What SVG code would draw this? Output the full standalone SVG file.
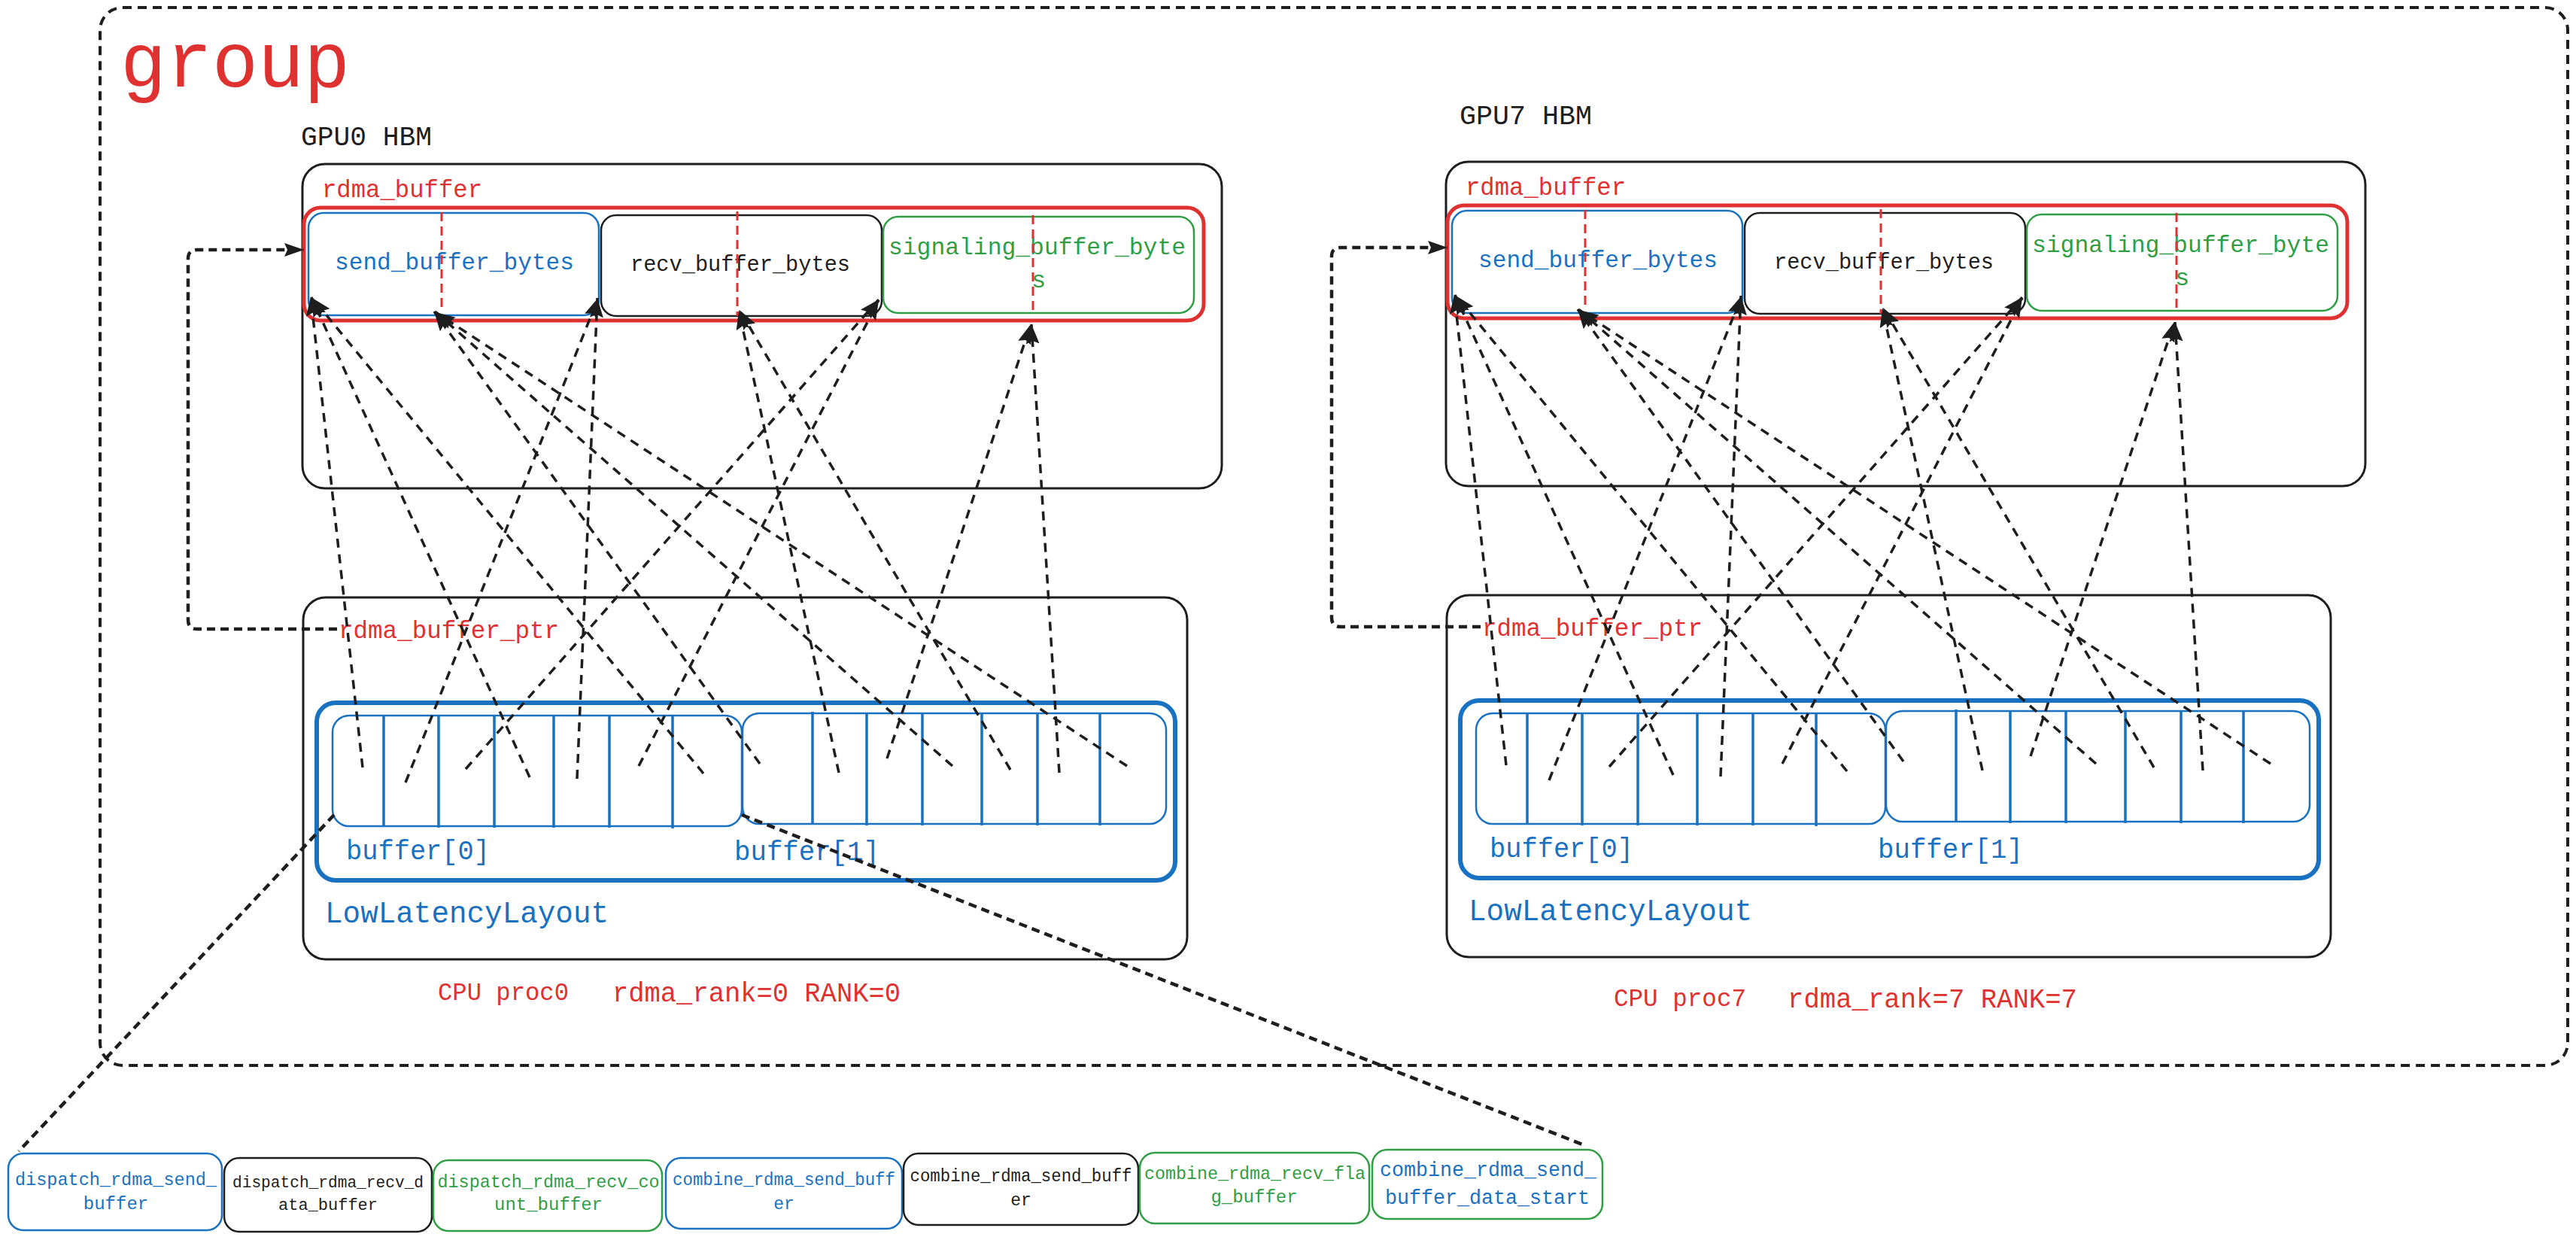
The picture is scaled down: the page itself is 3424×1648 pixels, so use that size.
<svg xmlns="http://www.w3.org/2000/svg" width="3424" height="1648" viewBox="0 0 3424 1648">
<style>
  text { font-family: "Liberation Mono", "DejaVu Sans Mono", monospace; }
  .red { fill: #e03131; }
  .blue { fill: #1971c2; }
  .green { fill: #2f9e44; }
  .black { fill: #1e1e1e; }
  .box { fill: none; stroke: #1e1e1e; stroke-width: 3; }
  .rbox { fill: none; stroke: #e03131; stroke-width: 5; }
  .bbox { fill: none; stroke: #1971c2; stroke-width: 2.5; }
  .kbox { fill: none; stroke: #1e1e1e; stroke-width: 2.5; }
  .gbox { fill: none; stroke: #2f9e44; stroke-width: 2.5; }
  .lay { fill: none; stroke: #1971c2; stroke-width: 6; }
  .cell { stroke: #1971c2; stroke-width: 3.5; }
  .rdash { stroke: #e03131; stroke-width: 3; stroke-dasharray: 12 7; }
  .conn { fill: none; stroke: #1e1e1e; stroke-width: 3.5; stroke-dasharray: 12 9; }
  .conn2 { fill: none; stroke: #1e1e1e; stroke-width: 4.5; stroke-dasharray: 11 7; }
  .frame { fill: none; stroke: #1e1e1e; stroke-width: 4; stroke-dasharray: 12 8; }
</style>
<defs>
  <marker id="ah" markerUnits="userSpaceOnUse" markerWidth="30" markerHeight="22" refX="26" refY="9" orient="auto">
    <path d="M0,0 L26,9 L0,18 L4,9 Z" fill="#1e1e1e"/>
  </marker>
</defs>
<rect width="3424" height="1648" fill="#ffffff"/>

<g id="group-frame">
  <rect class="frame" x="133" y="10" width="3280" height="1406" rx="30"/>
  <text class="red" x="160" y="115" font-size="104" textLength="305" lengthAdjust="spacingAndGlyphs">group</text>
</g>

<text id="gpu0-label" class="black" x="400" y="193" font-size="37" textLength="174" lengthAdjust="spacingAndGlyphs">GPU0 HBM</text>
<text id="gpu7-label" class="black" x="1940" y="165" font-size="37" textLength="176" lengthAdjust="spacingAndGlyphs">GPU7 HBM</text>

<g id="gpu0">
  <g id="gpu0-hbm">
    <rect class="box" x="402" y="218" width="1222" height="431" rx="30"/>
    <text class="red" x="428" y="262" font-size="33" textLength="213" lengthAdjust="spacingAndGlyphs">rdma_buffer</text>
  </g>
  <g id="gpu0-rdma-buffer"><rect class="rbox" x="404" y="276" width="1196" height="150" rx="22"/></g>
  <g id="gpu0-send">
    <rect class="bbox" x="410" y="283" width="386" height="136" rx="20"/>
    <text class="blue" x="445" y="358" font-size="32" textLength="318" lengthAdjust="spacingAndGlyphs">send_buffer_bytes</text>
    <line class="rdash" x1="587" y1="282" x2="587" y2="413"/>
  </g>
  <g id="gpu0-recv">
    <rect class="kbox" x="799" y="286" width="373" height="134" rx="20"/>
    <text class="black" x="838" y="360" font-size="30" textLength="292" lengthAdjust="spacingAndGlyphs">recv_buffer_bytes</text>
    <line class="rdash" x1="980" y1="281" x2="980" y2="420"/>
  </g>
  <g id="gpu0-signal">
    <rect class="gbox" x="1174" y="288" width="413" height="128" rx="20"/>
    <text class="green" x="1181" y="338" font-size="32" textLength="395" lengthAdjust="spacingAndGlyphs">signaling_buffer_byte</text>
    <text class="green" x="1371" y="382" font-size="32">s</text>
    <line class="rdash" x1="1373" y1="286" x2="1373" y2="417"/>
  </g>
  <g id="cpu0">
    <rect class="box" x="403" y="794" width="1175" height="481" rx="30"/>
    <text class="red" x="450" y="848" font-size="33" textLength="293" lengthAdjust="spacingAndGlyphs">rdma_buffer_ptr</text>
  </g>
  <g id="cpu0-layout">
    <rect class="lay" x="421" y="934" width="1141" height="236" rx="25"/>
    <text class="blue" x="432" y="1226" font-size="40" textLength="377" lengthAdjust="spacingAndGlyphs">LowLatencyLayout</text>
  </g>
  <g id="cpu0-buf0">
    <rect class="bbox" x="442" y="951" width="544" height="147" rx="22"/>
    <line class="cell" x1="510" y1="951" x2="510" y2="1099"/>
    <line class="cell" x1="583" y1="951" x2="583" y2="1100"/>
    <line class="cell" x1="657" y1="951" x2="657" y2="1100"/>
    <line class="cell" x1="736" y1="951" x2="736" y2="1100"/>
    <line class="cell" x1="810" y1="951" x2="810" y2="1100"/>
    <line class="cell" x1="894" y1="951" x2="894" y2="1101"/>
    <text class="blue" x="460" y="1142" font-size="36" textLength="191" lengthAdjust="spacingAndGlyphs">buffer[0]</text>
  </g>
  <g id="cpu0-buf1">
    <rect class="bbox" x="987" y="948" width="563" height="147" rx="22"/>
    <line class="cell" x1="1080" y1="946" x2="1080" y2="1095"/>
    <line class="cell" x1="1152" y1="948" x2="1152" y2="1097"/>
    <line class="cell" x1="1226" y1="948" x2="1226" y2="1097"/>
    <line class="cell" x1="1305" y1="948" x2="1305" y2="1097"/>
    <line class="cell" x1="1379" y1="948" x2="1379" y2="1097"/>
    <line class="cell" x1="1462" y1="948" x2="1462" y2="1097"/>
    <text class="blue" x="976" y="1143" font-size="36" textLength="193" lengthAdjust="spacingAndGlyphs">buffer[1]</text>
  </g>
  <g id="cpu0-label">
    <text class="red" x="582" y="1329" font-size="34" textLength="174" lengthAdjust="spacingAndGlyphs">CPU proc0</text>
    <text class="red" x="814" y="1331" font-size="36" textLength="383" lengthAdjust="spacingAndGlyphs">rdma_rank=0 RANK=0</text>
  </g>
</g>

<g id="gpu7" transform="translate(1520,-3)">
  <g id="gpu7-hbm">
    <rect class="box" x="402" y="218" width="1222" height="431" rx="30"/>
    <text class="red" x="428" y="262" font-size="33" textLength="213" lengthAdjust="spacingAndGlyphs">rdma_buffer</text>
  </g>
  <g id="gpu7-rdma-buffer"><rect class="rbox" x="404" y="276" width="1196" height="150" rx="22"/></g>
  <g id="gpu7-send">
    <rect class="bbox" x="410" y="283" width="386" height="136" rx="20"/>
    <text class="blue" x="445" y="358" font-size="32" textLength="318" lengthAdjust="spacingAndGlyphs">send_buffer_bytes</text>
    <line class="rdash" x1="587" y1="282" x2="587" y2="413"/>
  </g>
  <g id="gpu7-recv">
    <rect class="kbox" x="799" y="286" width="373" height="134" rx="20"/>
    <text class="black" x="838" y="360" font-size="30" textLength="292" lengthAdjust="spacingAndGlyphs">recv_buffer_bytes</text>
    <line class="rdash" x1="980" y1="281" x2="980" y2="420"/>
  </g>
  <g id="gpu7-signal">
    <rect class="gbox" x="1174" y="288" width="413" height="128" rx="20"/>
    <text class="green" x="1181" y="338" font-size="32" textLength="395" lengthAdjust="spacingAndGlyphs">signaling_buffer_byte</text>
    <text class="green" x="1371" y="382" font-size="32">s</text>
    <line class="rdash" x1="1373" y1="286" x2="1373" y2="417"/>
  </g>
  <g id="cpu7">
    <rect class="box" x="403" y="794" width="1175" height="481" rx="30"/>
    <text class="red" x="450" y="848" font-size="33" textLength="293" lengthAdjust="spacingAndGlyphs">rdma_buffer_ptr</text>
  </g>
  <g id="cpu7-layout">
    <rect class="lay" x="421" y="934" width="1141" height="236" rx="25"/>
    <text class="blue" x="432" y="1226" font-size="40" textLength="377" lengthAdjust="spacingAndGlyphs">LowLatencyLayout</text>
  </g>
  <g id="cpu7-buf0">
    <rect class="bbox" x="442" y="951" width="544" height="147" rx="22"/>
    <line class="cell" x1="510" y1="951" x2="510" y2="1099"/>
    <line class="cell" x1="583" y1="951" x2="583" y2="1100"/>
    <line class="cell" x1="657" y1="951" x2="657" y2="1100"/>
    <line class="cell" x1="736" y1="951" x2="736" y2="1100"/>
    <line class="cell" x1="810" y1="951" x2="810" y2="1100"/>
    <line class="cell" x1="894" y1="951" x2="894" y2="1101"/>
    <text class="blue" x="460" y="1142" font-size="36" textLength="191" lengthAdjust="spacingAndGlyphs">buffer[0]</text>
  </g>
  <g id="cpu7-buf1">
    <rect class="bbox" x="987" y="948" width="563" height="147" rx="22"/>
    <line class="cell" x1="1080" y1="946" x2="1080" y2="1095"/>
    <line class="cell" x1="1152" y1="948" x2="1152" y2="1097"/>
    <line class="cell" x1="1226" y1="948" x2="1226" y2="1097"/>
    <line class="cell" x1="1305" y1="948" x2="1305" y2="1097"/>
    <line class="cell" x1="1379" y1="948" x2="1379" y2="1097"/>
    <line class="cell" x1="1462" y1="948" x2="1462" y2="1097"/>
    <text class="blue" x="976" y="1143" font-size="36" textLength="193" lengthAdjust="spacingAndGlyphs">buffer[1]</text>
  </g>
</g>
<g id="cpu7-label">
  <text class="red" x="2145" y="1337" font-size="34" textLength="176" lengthAdjust="spacingAndGlyphs">CPU proc7</text>
  <text class="red" x="2376" y="1339" font-size="36" textLength="385" lengthAdjust="spacingAndGlyphs">rdma_rank=7 RANK=7</text>
</g>

<g id="legend">
  <g id="leg-dispatch-send">
    <rect class="bbox" x="11" y="1533" width="284" height="102" rx="20"/>
    <text class="blue" x="154" y="1575" font-size="24" text-anchor="middle" textLength="268" lengthAdjust="spacingAndGlyphs">dispatch_rdma_send_</text>
    <text class="blue" x="154" y="1607" font-size="24" text-anchor="middle">buffer</text>
  </g>
  <g id="leg-dispatch-recv-data">
    <rect class="kbox" x="298" y="1539" width="276" height="98" rx="20"/>
    <text class="black" x="436" y="1578" font-size="22" text-anchor="middle" textLength="254" lengthAdjust="spacingAndGlyphs">dispatch_rdma_recv_d</text>
    <text class="black" x="436" y="1608" font-size="22" text-anchor="middle">ata_buffer</text>
  </g>
  <g id="leg-dispatch-recv-count">
    <rect class="gbox" x="576" y="1542" width="304" height="94" rx="20"/>
    <text class="green" x="729" y="1578" font-size="24" text-anchor="middle" textLength="295" lengthAdjust="spacingAndGlyphs">dispatch_rdma_recv_co</text>
    <text class="green" x="729" y="1608" font-size="24" text-anchor="middle">unt_buffer</text>
  </g>
  <g id="leg-combine-send">
    <rect class="bbox" x="885" y="1539" width="314" height="94" rx="20"/>
    <text class="blue" x="1042" y="1575" font-size="23" text-anchor="middle" textLength="296" lengthAdjust="spacingAndGlyphs">combine_rdma_send_buff</text>
    <text class="blue" x="1042" y="1607" font-size="23" text-anchor="middle">er</text>
  </g>
  <g id="leg-combine-send-2">
    <rect class="kbox" x="1201" y="1533" width="312" height="95" rx="20"/>
    <text class="black" x="1357" y="1570" font-size="23" text-anchor="middle" textLength="295" lengthAdjust="spacingAndGlyphs">combine_rdma_send_buff</text>
    <text class="black" x="1357" y="1602" font-size="23" text-anchor="middle">er</text>
  </g>
  <g id="leg-combine-recv-flag">
    <rect class="gbox" x="1515" y="1532" width="305" height="94" rx="20"/>
    <text class="green" x="1668" y="1567" font-size="24" text-anchor="middle" textLength="294" lengthAdjust="spacingAndGlyphs">combine_rdma_recv_fla</text>
    <text class="green" x="1667" y="1598" font-size="24" text-anchor="middle">g_buffer</text>
  </g>
  <g id="leg-combine-send-data-start">
    <rect class="gbox" x="1824" y="1528" width="306" height="92" rx="20"/>
    <text class="blue" x="1978" y="1563" font-size="27" text-anchor="middle" textLength="288" lengthAdjust="spacingAndGlyphs">combine_rdma_send_</text>
    <text class="blue" x="1977" y="1600" font-size="27" text-anchor="middle" textLength="272" lengthAdjust="spacingAndGlyphs">buffer_data_start</text>
  </g>
</g>

<g id="connectors">
  <g id="conn-gpu0">
    <path class="conn2" d="M 448 836 L 262 836 Q 250 836 250 824 L 250 344 Q 250 332 262 332 L 404 332" marker-end="url(#ah)"/>
    <path class="conn" d="M 482 1020 L 413 394" marker-end="url(#ah)"/>
    <path class="conn" d="M 539 1040 L 795 396" marker-end="url(#ah)"/>
    <path class="conn" d="M 619 1022 L 1168 398" marker-end="url(#ah)"/>
    <path class="conn" d="M 704 1033 L 414 395" marker-end="url(#ah)"/>
    <path class="conn" d="M 767 1035 L 794 396" marker-end="url(#ah)"/>
    <path class="conn" d="M 849 1018 L 1168 399" marker-end="url(#ah)"/>
    <path class="conn" d="M 935 1028 L 415 396" marker-end="url(#ah)"/>
    <path class="conn" d="M 1010 1015 L 577 414" marker-end="url(#ah)"/>
    <path class="conn" d="M 1115 1027 L 982 412" marker-end="url(#ah)"/>
    <path class="conn" d="M 1179 1008 L 1370 431" marker-end="url(#ah)"/>
    <path class="conn" d="M 1266 1018 L 578 414" marker-end="url(#ah)"/>
    <path class="conn" d="M 1343 1023 L 983 412" marker-end="url(#ah)"/>
    <path class="conn" d="M 1408 1027 L 1371 431" marker-end="url(#ah)"/>
    <path class="conn" d="M 1498 1018 L 579 415" marker-end="url(#ah)"/>
  </g>
  <g id="conn-gpu7" transform="translate(1520,-3)">
    <path class="conn2" d="M 448 836 L 262 836 Q 250 836 250 824 L 250 344 Q 250 332 262 332 L 404 332" marker-end="url(#ah)"/>
    <path class="conn" d="M 482 1020 L 413 394" marker-end="url(#ah)"/>
    <path class="conn" d="M 539 1040 L 795 396" marker-end="url(#ah)"/>
    <path class="conn" d="M 619 1022 L 1168 398" marker-end="url(#ah)"/>
    <path class="conn" d="M 704 1033 L 414 395" marker-end="url(#ah)"/>
    <path class="conn" d="M 767 1035 L 794 396" marker-end="url(#ah)"/>
    <path class="conn" d="M 849 1018 L 1168 399" marker-end="url(#ah)"/>
    <path class="conn" d="M 935 1028 L 415 396" marker-end="url(#ah)"/>
    <path class="conn" d="M 1010 1015 L 577 414" marker-end="url(#ah)"/>
    <path class="conn" d="M 1115 1027 L 982 412" marker-end="url(#ah)"/>
    <path class="conn" d="M 1179 1008 L 1370 431" marker-end="url(#ah)"/>
    <path class="conn" d="M 1266 1018 L 578 414" marker-end="url(#ah)"/>
    <path class="conn" d="M 1343 1023 L 983 412" marker-end="url(#ah)"/>
    <path class="conn" d="M 1408 1027 L 1371 431" marker-end="url(#ah)"/>
    <path class="conn" d="M 1498 1018 L 579 415" marker-end="url(#ah)"/>
  </g>
  <path class="conn2" d="M 444 1083 L 25 1530"/>
  <path class="conn2" d="M 986 1083 L 2106 1522"/>
</g>
</svg>
